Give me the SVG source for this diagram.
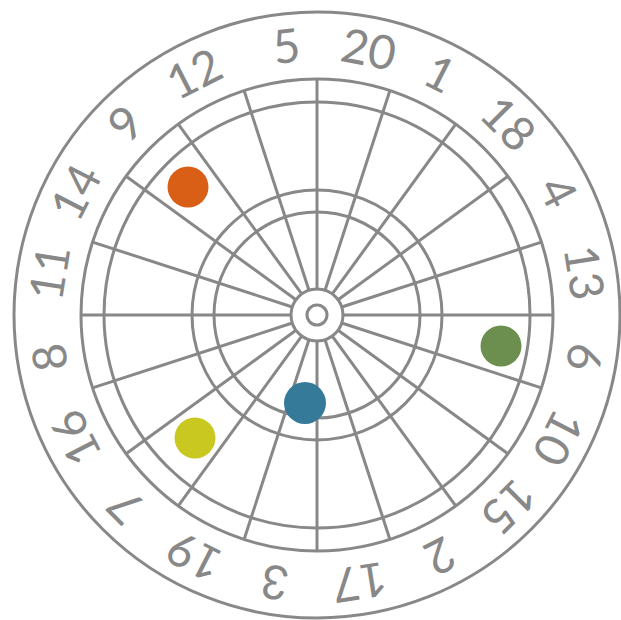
<svg xmlns="http://www.w3.org/2000/svg" width="621" height="620" viewBox="0 0 621 620">
<style>
.ln{fill:none;stroke:#888888;stroke-width:3}
.num{font-family:Lato,"Open Sans",sans-serif;font-size:47px;fill:#888888;text-anchor:middle;dominant-baseline:central}
</style>
<rect width="621" height="620" fill="#ffffff"/>
<g id="board">
<circle class="ln" cx="317" cy="315" r="303"/>
<circle class="ln" cx="317" cy="315" r="236"/>
<circle class="ln" cx="317" cy="315" r="213"/>
<circle class="ln" cx="317" cy="315" r="125"/>
<circle class="ln" cx="317" cy="315" r="103"/>
</g>
<g id="connectors">
<g class="ln">
<line x1="317" y1="289" x2="317" y2="79" transform="rotate(0 317 315)"/>
<line x1="317" y1="289" x2="317" y2="79" transform="rotate(18 317 315)"/>
<line x1="317" y1="289" x2="317" y2="79" transform="rotate(36 317 315)"/>
<line x1="317" y1="289" x2="317" y2="79" transform="rotate(54 317 315)"/>
<line x1="317" y1="289" x2="317" y2="79" transform="rotate(72 317 315)"/>
<line x1="317" y1="289" x2="317" y2="79" transform="rotate(90 317 315)"/>
<line x1="317" y1="289" x2="317" y2="79" transform="rotate(108 317 315)"/>
<line x1="317" y1="289" x2="317" y2="79" transform="rotate(126 317 315)"/>
<line x1="317" y1="289" x2="317" y2="79" transform="rotate(144 317 315)"/>
<line x1="317" y1="289" x2="317" y2="79" transform="rotate(162 317 315)"/>
<line x1="317" y1="289" x2="317" y2="79" transform="rotate(180 317 315)"/>
<line x1="317" y1="289" x2="317" y2="79" transform="rotate(198 317 315)"/>
<line x1="317" y1="289" x2="317" y2="79" transform="rotate(216 317 315)"/>
<line x1="317" y1="289" x2="317" y2="79" transform="rotate(234 317 315)"/>
<line x1="317" y1="289" x2="317" y2="79" transform="rotate(252 317 315)"/>
<line x1="317" y1="289" x2="317" y2="79" transform="rotate(270 317 315)"/>
<line x1="317" y1="289" x2="317" y2="79" transform="rotate(288 317 315)"/>
<line x1="317" y1="289" x2="317" y2="79" transform="rotate(306 317 315)"/>
<line x1="317" y1="289" x2="317" y2="79" transform="rotate(324 317 315)"/>
<line x1="317" y1="289" x2="317" y2="79" transform="rotate(342 317 315)"/>
</g>
</g>
<g id="bull">
<circle class="ln" cx="317" cy="315" r="26"/>
<circle class="ln" cx="317" cy="315" r="10"/>
</g>
<g id="numbers">
<text class="num" x="317" y="43" transform="rotate(11 317 315)">20</text>
<text class="num" x="317" y="43" transform="rotate(27 317 315)">1</text>
<text class="num" x="317" y="43" transform="rotate(45 317 315)">18</text>
<text class="num" x="317" y="43" transform="rotate(63 317 315)">4</text>
<text class="num" x="317" y="43" transform="rotate(81 317 315)">13</text>
<text class="num" x="317" y="43" transform="rotate(99 317 315)">6</text>
<text class="num" x="317" y="43" transform="rotate(117 317 315)">10</text>
<text class="num" x="317" y="43" transform="rotate(135 317 315)">15</text>
<text class="num" x="317" y="43" transform="rotate(153 317 315)">2</text>
<text class="num" x="317" y="43" transform="rotate(171 317 315)">17</text>
<text class="num" x="317" y="43" transform="rotate(189 317 315)">3</text>
<text class="num" x="317" y="43" transform="rotate(207 317 315)">19</text>
<text class="num" x="317" y="43" transform="rotate(225 317 315)">7</text>
<text class="num" x="317" y="43" transform="rotate(243 317 315)">16</text>
<text class="num" x="317" y="43" transform="rotate(261 317 315)">8</text>
<text class="num" x="317" y="43" transform="rotate(279 317 315)">11</text>
<text class="num" x="317" y="43" transform="rotate(297 317 315)">14</text>
<text class="num" x="317" y="43" transform="rotate(315 317 315)">9</text>
<text class="num" x="317" y="43" transform="rotate(333 317 315)">12</text>
<text class="num" x="317" y="43" transform="rotate(353.5 317 315)">5</text>
</g>
<g id="dot-orange"><circle cx="188" cy="187" r="20.5" fill="#D95F17"/></g>
<g id="dot-green"><circle cx="501" cy="346" r="20.5" fill="#6C8E4E"/></g>
<g id="dot-blue"><circle cx="305" cy="403" r="21" fill="#357A99"/></g>
<g id="dot-yellow"><circle cx="195" cy="438" r="20.5" fill="#C9C820"/></g>
</svg>
